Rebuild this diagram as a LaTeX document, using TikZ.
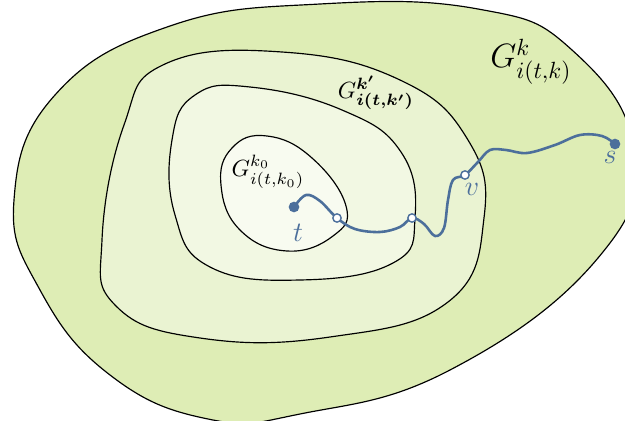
\documentclass[tikz,border=0pt]{standalone}
\usepackage{amsmath,bm}
\definecolor{outergreen}{HTML}{DEEDB5}
\definecolor{midgreen}{HTML}{EAF3D2}
\definecolor{thirdgreen}{HTML}{F2F8E3}
\definecolor{innergreen}{HTML}{F8FBF0}
\definecolor{pathblue}{HTML}{4C6F9B}
\tikzset{
  region/.style={draw=black,line width=0.5pt,smooth cycle,tension=0.75},
  fullvertex/.style={circle,fill=pathblue,inner sep=0pt,minimum size=1.6mm},
  emptyvertex/.style={circle,draw=pathblue,fill=white,line width=0.6pt,inner sep=0pt,minimum size=1.25mm},
  vlabel/.style={text=pathblue,font=\large}
}
\begin{document}
\begin{tikzpicture}[x=0.015cm,y=-0.015cm,line join=round,line cap=round]
  \useasboundingbox (0,0) rectangle (625,421);
  \clip (0,0) rectangle (625,421);
  % Vung ngoai cung
  \draw[region,fill=outergreen] plot coordinates {(320,4) (478,9) (572,50) (634,150) (598,258) (450,370) (300,414) (208,419) (110,375) (40,290) (14,200) (55,95) (170,26)};
  % Vung thu hai
  \draw[region,fill=midgreen] plot coordinates {(282,52) (400,80) (468,140) (484,218) (448,302) (330,337) (200,338) (116,306) (102,240) (124,125) (165,64)};
  % Vung thu ba
  \draw[region,fill=thirdgreen] plot coordinates {(250,87) (342,110) (401,152) (415,218) (393,263) (300,280) (210,267) (175,215) (172,140) (195,95)};
  % Vung trong cung
  \draw[region,fill=innergreen] plot coordinates {(267,136) (312,158) (346,206) (333,236) (287,251) (240,230) (221,185) (232,148)};
  % Cac dinh tren duong di
  \path (294,207) coordinate (t)
        (337,218) coordinate (a)
        (412,218) coordinate (b)
        (465,175) coordinate (v)
        (615,144) coordinate (s);
  \draw[pathblue,line width=1.1pt] plot[smooth,tension=0.6] coordinates {(t) (306,195) (320,201) (a) (355,229) (380,232) (400,227) (b) (424,224) (435,236) (444,228) (448,200) (453,180) (v) (478,162) (490,150) (506,150) (527,153) (555,145) (580,135) (602,136) (s)};
  \node[fullvertex] (tdot) at (t) {};
  \node[fullvertex] (sdot) at (s) {};
  \node[emptyvertex] (adot) at (a) {};
  \node[emptyvertex] (bdot) at (b) {};
  \node[emptyvertex] (vdot) at (v) {};
  \node[vlabel] (tlab) at (298,233) {$t$};
  \node[vlabel] (vlab) at (472,189) {$v$};
  \node[vlabel] (slab) at (610,157) {$s$};
  % Nhan cac vung
  \node[font=\Large] (Gk) at (531,62) {$G^{k}_{i(t,k)}$};
  \node (Gkp) at (376,93) {$G^{\bm{k'}}_{\bm{i(t,k')}}$};
  \node (Gk0) at (268,172) {$G^{k_0}_{i(t,k_0)}$};
\end{tikzpicture}
\end{document}
